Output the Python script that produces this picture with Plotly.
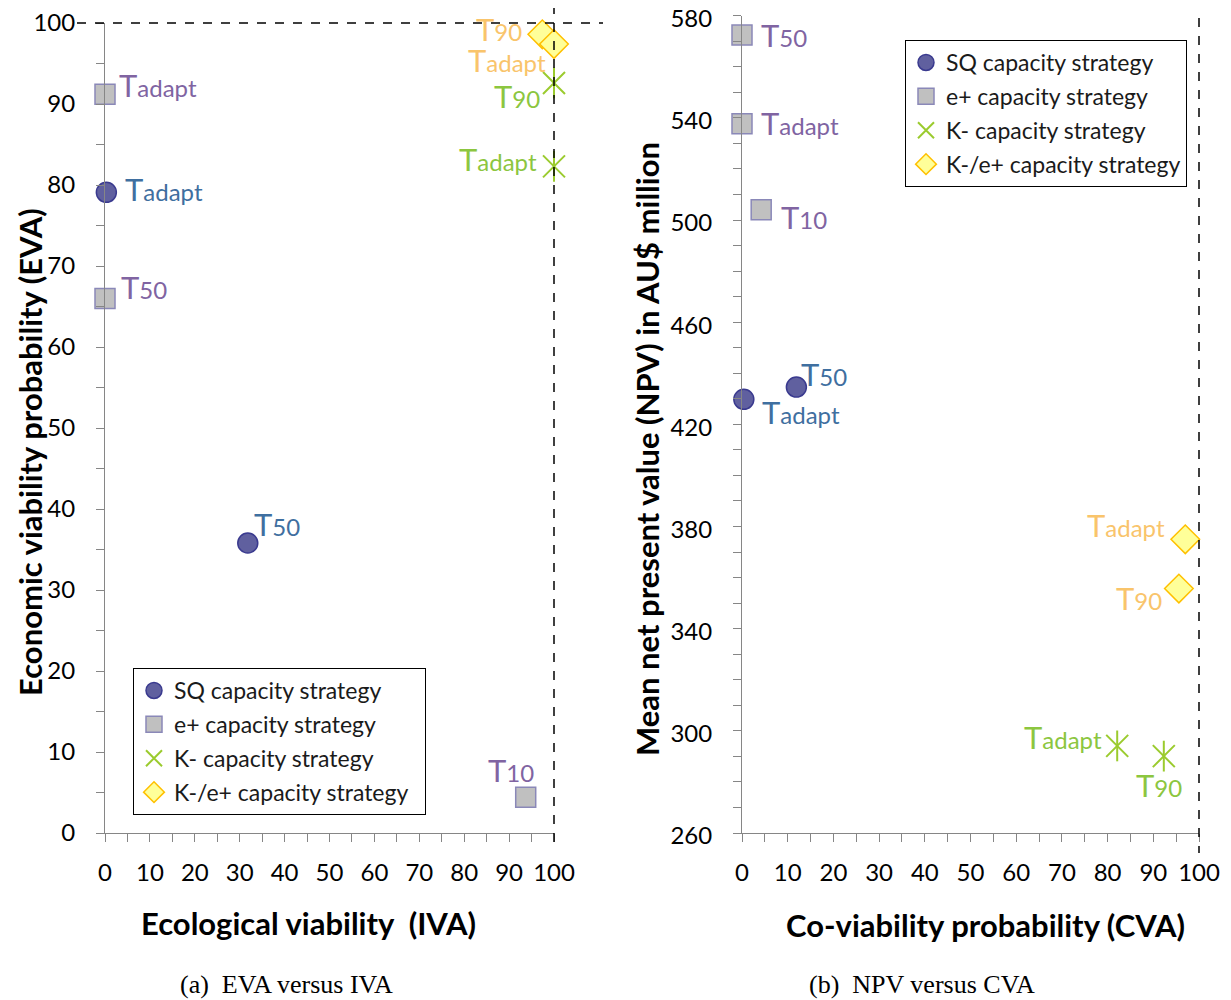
import plotly.graph_objects as go

# ---------------- data ----------------
series_names = ["SQ capacity strategy", "e+ capacity strategy",
                "K- capacity strategy", "K-/e+ capacity strategy"]

# Panel (a): EVA versus IVA
a_sq_x = [0.3, 31.8]
a_sq_y = [79.1, 35.8]
a_sq_lab = ["Tadapt", "T50"]
a_ep_x = [0, 0, 93.7]
a_ep_y = [91.2, 66.0, 4.4]
a_ep_lab = ["Tadapt", "T50", "T10"]
a_km_x = [100, 100]
a_km_y = [92.6, 82.3]
a_km_lab = ["T90", "Tadapt"]
a_ke_x = [97.4, 100]
a_ke_y = [98.6, 97.4]
a_ke_lab = ["T90", "Tadapt"]

# Panel (b): NPV versus CVA
b_sq_x = [0.4, 11.9]
b_sq_y = [429.8, 434.6]
b_sq_lab = ["Tadapt", "T50"]
b_ep_x = [0, 0, 4.2]
b_ep_y = [572.4, 537.7, 504.0]
b_ep_lab = ["T50", "Tadapt", "T10"]
b_km_x = [82.1, 92.3]
b_km_y = [294.1, 290.1]
b_km_lab = ["Tadapt", "T90"]
b_ke_x = [97.0, 95.6]
b_ke_y = [375.0, 355.7]
b_ke_lab = ["Tadapt", "T90"]

a_xticks = list(range(0, 101, 5))
a_yticks = list(range(0, 101, 5))
b_xticks = list(range(0, 101, 5))
b_yticks = list(range(260, 581, 10))

# ---------------- styles ----------------
OFF = 8                     # page body margin
W, H = 1231 - OFF, 1000 - OFF
FONT = "Lato, 'Open Sans', sans-serif"
AX = "#868686"

mk = {
    "SQ": dict(symbol="circle", size=20, color="#60609f", line=dict(color="#3a3a8f", width=1.5)),
    "EP": dict(symbol="square", size=20, color="#c0c0c0", line=dict(color="#8a88b8", width=1.5)),
    "KM": dict(symbol="x-thin-open", size=22, color="#9bcb2e", line=dict(color="#9bcb2e", width=2)),
    "KE": dict(symbol="diamond", size=22, color="#ffff99", line=dict(color="#ffc000", width=1.5)),
}
lab_col = {"SQ": "#3f6fa0", "EP": "#8064a2", "KM": "#8cc63f", "KE": "#f9c46b"}

def px_x(p):
    return (p - OFF) / W

def px_y(p):
    return 1 - (p - OFF) / H

dom = {
    "a": dict(x=[px_x(105), px_x(554)], y=[px_y(833), px_y(23)], xr=[0, 100], yr=[0, 100]),
    "b": dict(x=[px_x(742), px_x(1199)], y=[px_y(833), px_y(15.7)], xr=[0, 100], yr=[260, 580]),
}

fig = go.Figure()

def add_series(key, xs, ys, name, xa, ya, legend, pad):
    fig.add_trace(go.Scatter(
        x=xs, y=ys, mode="markers", name=name + pad, marker=mk[key],
        xaxis=xa, yaxis=ya, legend=legend, legendgroup=legend + key,
        cliponaxis=False, hoverinfo="skip"))
    if key == "KM":
        m2 = dict(mk[key]); m2["symbol"] = "line-ns-open"
        fig.add_trace(go.Scatter(
            x=xs, y=ys, mode="markers", name=name, marker=m2, showlegend=False,
            xaxis=xa, yaxis=ya, legend=legend, legendgroup=legend + key,
            cliponaxis=False, hoverinfo="skip"))

panel_a = [("SQ", a_sq_x, a_sq_y, a_sq_lab), ("EP", a_ep_x, a_ep_y, a_ep_lab),
           ("KM", a_km_x, a_km_y, a_km_lab), ("KE", a_ke_x, a_ke_y, a_ke_lab)]
panel_b = [("SQ", b_sq_x, b_sq_y, b_sq_lab), ("EP", b_ep_x, b_ep_y, b_ep_lab),
           ("KM", b_km_x, b_km_y, b_km_lab), ("KE", b_ke_x, b_ke_y, b_ke_lab)]

for i, (k, xs, ys, _) in enumerate(panel_a):
    add_series(k, xs, ys, series_names[i], "x", "y", "legend", "\u00a0\u00a0")
for i, (k, xs, ys, _) in enumerate(panel_b):
    add_series(k, xs, ys, series_names[i], "x2", "y2", "legend2", "")

# label placement (anchor, xshift, yshift) per point
lab_pos_a = {
    "SQ": [("left", 17, 3), ("left", 4, 19)],
    "EP": [("left", 12, 9), ("left", 14, 11), ("center", -15, 27)],
    "KM": [("right", -12, -13), ("right", -15, 7)],
    "KE": [("right", -18, 5), ("right", -6, -16)],
}
lab_pos_b = {
    "SQ": [("left", 16, -13), ("left", 3, 13)],
    "EP": [("left", 17, 0), ("left", 17, 1), ("left", 18, -7)],
    "KM": [("right", -13, 9), ("center", -5, -29)],
    "KE": [("right", -18, 14), ("right", -15, -9)],
}

def fmt(lbl):
    return "<span style='font-size:31px'>T</span>" + lbl[1:]

annotations = []
for panel, pos, xr, yr in ((panel_a, lab_pos_a, "x", "y"), (panel_b, lab_pos_b, "x2", "y2")):
    for k, xs, ys, labs in panel:
        for j, (xv, yv, lb) in enumerate(zip(xs, ys, labs)):
            anc, dx, dy = pos[k][j]
            annotations.append(dict(
                x=xv, y=yv, xref=xr, yref=yr, text=fmt(lb), showarrow=False,
                xanchor=anc, yanchor="middle", xshift=dx, yshift=dy,
                font=dict(family=FONT, size=24, color=lab_col[k])))

# axis titles and captions
TF = dict(family=FONT, size=31, color="black")
CF = dict(family="'Liberation Serif', 'Times New Roman', serif", size=26, color="black")
annotations += [
    dict(x=px_x(30), y=px_y(452), xref="paper", yref="paper", text="<b>Economic viability probability (EVA)</b>",
         textangle=-90, showarrow=False, font=TF, xanchor="center", yanchor="middle"),
    dict(x=px_x(308), y=px_y(923), xref="paper", yref="paper", text="<b>Ecological viability  (IVA)</b>",
         showarrow=False, font=TF, xanchor="center", yanchor="middle"),
    dict(x=px_x(647), y=px_y(449), xref="paper", yref="paper", text="<b>Mean net present value (NPV) in AU$ million</b>",
         textangle=-90, showarrow=False, font=TF, xanchor="center", yanchor="middle"),
    dict(x=px_x(985), y=px_y(925), xref="paper", yref="paper", text="<b>Co-viability probability (CVA)</b>",
         showarrow=False, font=TF, xanchor="center", yanchor="middle"),
    dict(x=px_x(286), y=px_y(984), xref="paper", yref="paper", text="(a)  EVA versus IVA",
         showarrow=False, font=CF, xanchor="center", yanchor="middle"),
    dict(x=px_x(922), y=px_y(984), xref="paper", yref="paper", text="(b)  NPV versus CVA",
         showarrow=False, font=CF, xanchor="center", yanchor="middle"),
]

def tick_text(vals, every):
    return [str(v) if (v - vals[0]) % every == 0 else "" for v in vals]

TICKF = dict(family=FONT, size=24, color="black")

def main_axis(d, rng, vals, every, standoff):
    return dict(domain=d, range=rng, tickmode="array", tickvals=vals, ticktext=tick_text(vals, every),
                ticks="outside", ticklen=8, tickwidth=1, tickcolor=AX, showline=True, linecolor=AX,
                linewidth=1, showgrid=False, zeroline=False, tickfont=TICKF, automargin=False,
                ticklabelstandoff=standoff, ticklabeloverflow="allow", fixedrange=True)

def cross_axis(d, rng, vals):
    return dict(domain=d, range=rng, tickmode="array", tickvals=vals, ticks="inside", ticklen=6,
                tickwidth=1, tickcolor=AX, showline=False, showgrid=False, zeroline=False,
                showticklabels=False, fixedrange=True, automargin=False)

a, b = dom["a"], dom["b"]
LEGF = dict(family=FONT, size=23, color="#1a1a1a")
layout = dict(
    width=W, height=H, margin=dict(l=0, r=0, t=0, b=0, pad=0, autoexpand=False),
    paper_bgcolor="white", plot_bgcolor="rgba(0,0,0,0)",
    font=dict(family=FONT, color="black"),
    xaxis=dict(main_axis(a["x"], a["xr"], a_xticks, 10, 10), anchor="y"),
    yaxis=dict(main_axis(a["y"], a["yr"], a_yticks, 10, 16), anchor="x"),
    xaxis2=dict(main_axis(b["x"], b["xr"], b_xticks, 10, 10), anchor="y2"),
    yaxis2=dict(main_axis(b["y"], b["yr"], b_yticks, 40, 16), anchor="x2", ticklabelshift=3),
    xaxis3=dict(cross_axis(a["x"], a["xr"], a_xticks), anchor="y3"),
    yaxis3=dict(cross_axis(a["y"], a["yr"], a_yticks), anchor="x3"),
    xaxis4=dict(cross_axis(b["x"], b["xr"], b_xticks), anchor="y4"),
    yaxis4=dict(cross_axis(b["y"], b["yr"], b_yticks), anchor="x4"),
    legend=dict(x=px_x(133), y=px_y(668), xanchor="left", yanchor="top", bgcolor="white",
                bordercolor="black", borderwidth=1, font=LEGF,
                tracegroupgap=1, itemclick=False, itemdoubleclick=False),
    legend2=dict(x=px_x(905), y=px_y(40), xanchor="left", yanchor="top", bgcolor="white",
                 bordercolor="black", borderwidth=1, font=LEGF,
                 tracegroupgap=1, itemclick=False, itemdoubleclick=False),
    showlegend=True,
    annotations=annotations,
    shapes=[
        dict(type="line", xref="paper", yref="paper", x0=px_x(77), x1=px_x(603), y0=px_y(23), y1=px_y(23),
             line=dict(color="black", width=1.5, dash="dash")),
        dict(type="line", xref="paper", yref="paper", x0=px_x(554), x1=px_x(554), y0=px_y(5), y1=px_y(850),
             line=dict(color="black", width=1.5, dash="dash")),
        dict(type="line", xref="paper", yref="paper", x0=px_x(1199), x1=px_x(1199), y0=px_y(18), y1=px_y(853),
             line=dict(color="black", width=1.5, dash="dash")),
    ],
)
fig.update_layout(layout)

fig.write_html("out.html")
